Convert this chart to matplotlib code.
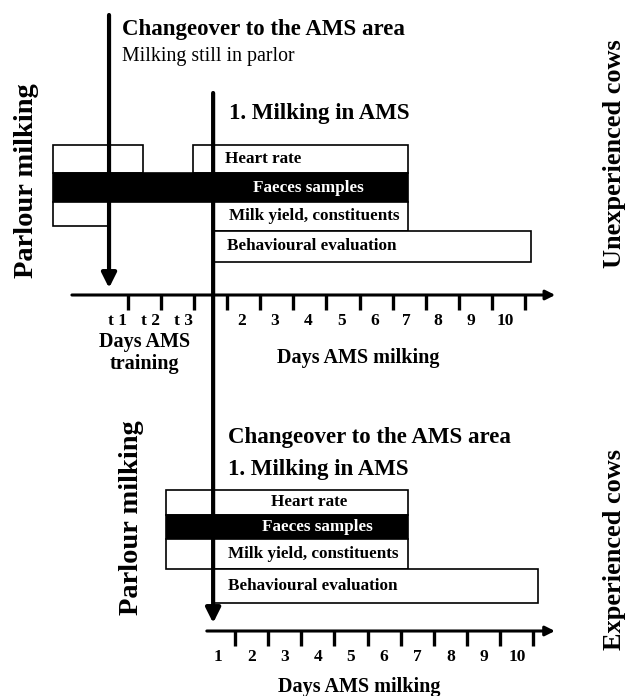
import matplotlib
matplotlib.use('Agg')
import matplotlib.pyplot as plt
import matplotlib.transforms as mtransforms
from matplotlib.patches import Rectangle

plt.rcParams['font.family'] = ['Liberation Serif', 'DejaVu Serif']
plt.rcParams['font.weight'] = 'bold'

# horizontal positions in "days", vertical positions in figure pixels
DAY_PX = 33.15          # pixels per day
TOP_ORIGIN = 193.9      # pixel x of day 0 in the upper panel
BOT_SHIFT = 0.24        # lower panel is shifted right by this many days

# upper panel: unexperienced cows
top_ticks = [-2, -1, 0, 1, 2, 3, 4, 5, 6, 7, 8, 9, 10]
top_tick_labels = ['t 1', 't 2', 't 3', '', '2', '3', '4', '5', '6', '7', '8', '9', '10']
top_label_pos = [-2.3, -1.3, -0.3, 0.45, 1.45, 2.45, 3.45, 4.45, 5.45, 6.4, 7.35, 8.35, 9.4]
top_boxes = [  # (start day, end day, y top, y bottom, label, filled)
    (-4.25, -1.54, 145, 173, '', False),
    (-0.03, 6.46, 145, 173, 'Heart rate', False),
    (-4.25, 6.46, 173, 202, 'Faeces samples', True),
    (-4.25, -2.56, 202, 226, '', False),
    (0.58, 6.46, 202, 231, 'Milk yield, constituents', False),
    (0.58, 10.17, 231, 262, 'Behavioural evaluation', False),
]
top_box_text = [None, (2.08, 'center'), (3.44, 'center'), None,
                (1.06, 'left'), (1.0, 'left')]
changeover_day = -2.56
first_ams_day = 0.58

# lower panel: experienced cows
bot_ticks = [1, 2, 3, 4, 5, 6, 7, 8, 9, 10]
bot_tick_labels = ['1', '2', '3', '4', '5', '6', '7', '8', '9', '10']
bot_boxes = [
    (-1.08, 6.22, 490, 515, 'Heart rate', False),
    (-1.08, 6.22, 515, 539, 'Faeces samples', True),
    (-1.08, 6.22, 539, 569, 'Milk yield, constituents', False),
    (0.33, 10.14, 569, 603, 'Behavioural evaluation', False),
]
bot_box_text = [(3.23, 'center'), (3.47, 'center'), (0.79, 'left'), (0.79, 'left')]

fig = plt.figure(figsize=(6.29, 6.96), dpi=100)
ax = fig.add_axes([0, 0, 1, 1])
ax.set_xlim(-TOP_ORIGIN / DAY_PX, (629 - TOP_ORIGIN) / DAY_PX)
ax.set_ylim(696, 0)
ax.axis('off')

top = ax.transData
bot = mtransforms.Affine2D().translate(BOT_SHIFT, 0) + ax.transData


def draw_boxes(boxes, text_pos, tr):
    for (x0, x1, y0, y1, label, filled), tp in zip(boxes, text_pos):
        ax.add_patch(Rectangle((x0, y0), x1 - x0, y1 - y0, transform=tr,
                               facecolor='black' if filled else 'white',
                               edgecolor='black', lw=1.2, zorder=2))
        if tp is None:
            continue
        ax.text(tp[0], (y0 + y1) / 2, label, transform=tr, ha=tp[1],
                va='center', fontsize=12.3,
                color='white' if filled else 'black', zorder=4)


def draw_axis(tr, x0, x1, y, ticks, labels, label_pos):
    ax.annotate('', xy=(x1, y), xytext=(x0, y), xycoords=tr, textcoords=tr,
                arrowprops=dict(arrowstyle='-|>', lw=2.2, color='black',
                                mutation_scale=14, shrinkA=0, shrinkB=0))
    for t in ticks:
        ax.plot([t, t], [y, y + 15], color='black', lw=2.4, transform=tr,
                solid_capstyle='butt')
    for p, lab in zip(label_pos, labels):
        ax.text(p, y + 26, lab, transform=tr, ha='center', va='center',
                fontsize=12.5)


# ---- upper panel
draw_boxes(top_boxes, top_box_text, top)
draw_axis(top, -3.68, 10.9, 295, top_ticks, top_tick_labels, top_label_pos)

ax.annotate('', xy=(changeover_day, 288), xytext=(changeover_day, 15),
            xycoords=top, textcoords=top,
            arrowprops=dict(arrowstyle='-|>', lw=3, color='black',
                            mutation_scale=22, shrinkA=0, shrinkB=0), zorder=5)
# first milking in AMS, runs through both panels
ax.annotate('', xy=(first_ams_day, 623), xytext=(first_ams_day, 93),
            xycoords=top, textcoords=top,
            arrowprops=dict(arrowstyle='-|>', lw=3, color='black',
                            mutation_scale=22, shrinkA=0, shrinkB=0), zorder=5)

ax.text(-2.17, 30, 'Changeover to the AMS area', transform=top,
        ha='left', va='center', fontsize=16.5)
ax.text(-2.17, 56, 'Milking still in parlor', transform=top,
        ha='left', va='center', fontsize=14.3, fontweight='normal')
ax.text(1.05, 113, '1. Milking in AMS', transform=top,
        ha='left', va='center', fontsize=16.5)
ax.text(-1.5, 353, 'Days AMS\ntraining', transform=top, ha='center',
        va='center', fontsize=14.5, linespacing=1.1)
ax.text(4.95, 358, 'Days AMS milking', transform=top, ha='center',
        va='center', fontsize=14.5)

# ---- lower panel
draw_boxes(bot_boxes, bot_box_text, bot)
draw_axis(bot, 0.15, 10.65, 631, bot_ticks, bot_tick_labels,
          [t - 0.5 for t in bot_ticks])
ax.text(0.79, 437, 'Changeover to the AMS area', transform=bot,
        ha='left', va='center', fontsize=16.5)
ax.text(0.79, 470, '1. Milking in AMS', transform=bot,
        ha='left', va='center', fontsize=16.5)
ax.text(4.75, 687, 'Days AMS milking', transform=bot, ha='center',
        va='center', fontsize=14.5)

# side labels (figure pixel positions)
fig.text(27 / 629, 1 - 181 / 696, 'Parlour milking', fontsize=20.5,
         rotation=90, ha='center', va='center')
fig.text(132 / 629, 1 - 518 / 696, 'Parlour milking', fontsize=20.5,
         rotation=90, ha='center', va='center')
fig.text(615 / 629, 1 - 154 / 696, 'Unexperienced cows', fontsize=19,
         rotation=90, ha='center', va='center')
fig.text(615 / 629, 1 - 550 / 696, 'Experienced cows', fontsize=19,
         rotation=90, ha='center', va='center')

fig.savefig('out.png', dpi=100)
